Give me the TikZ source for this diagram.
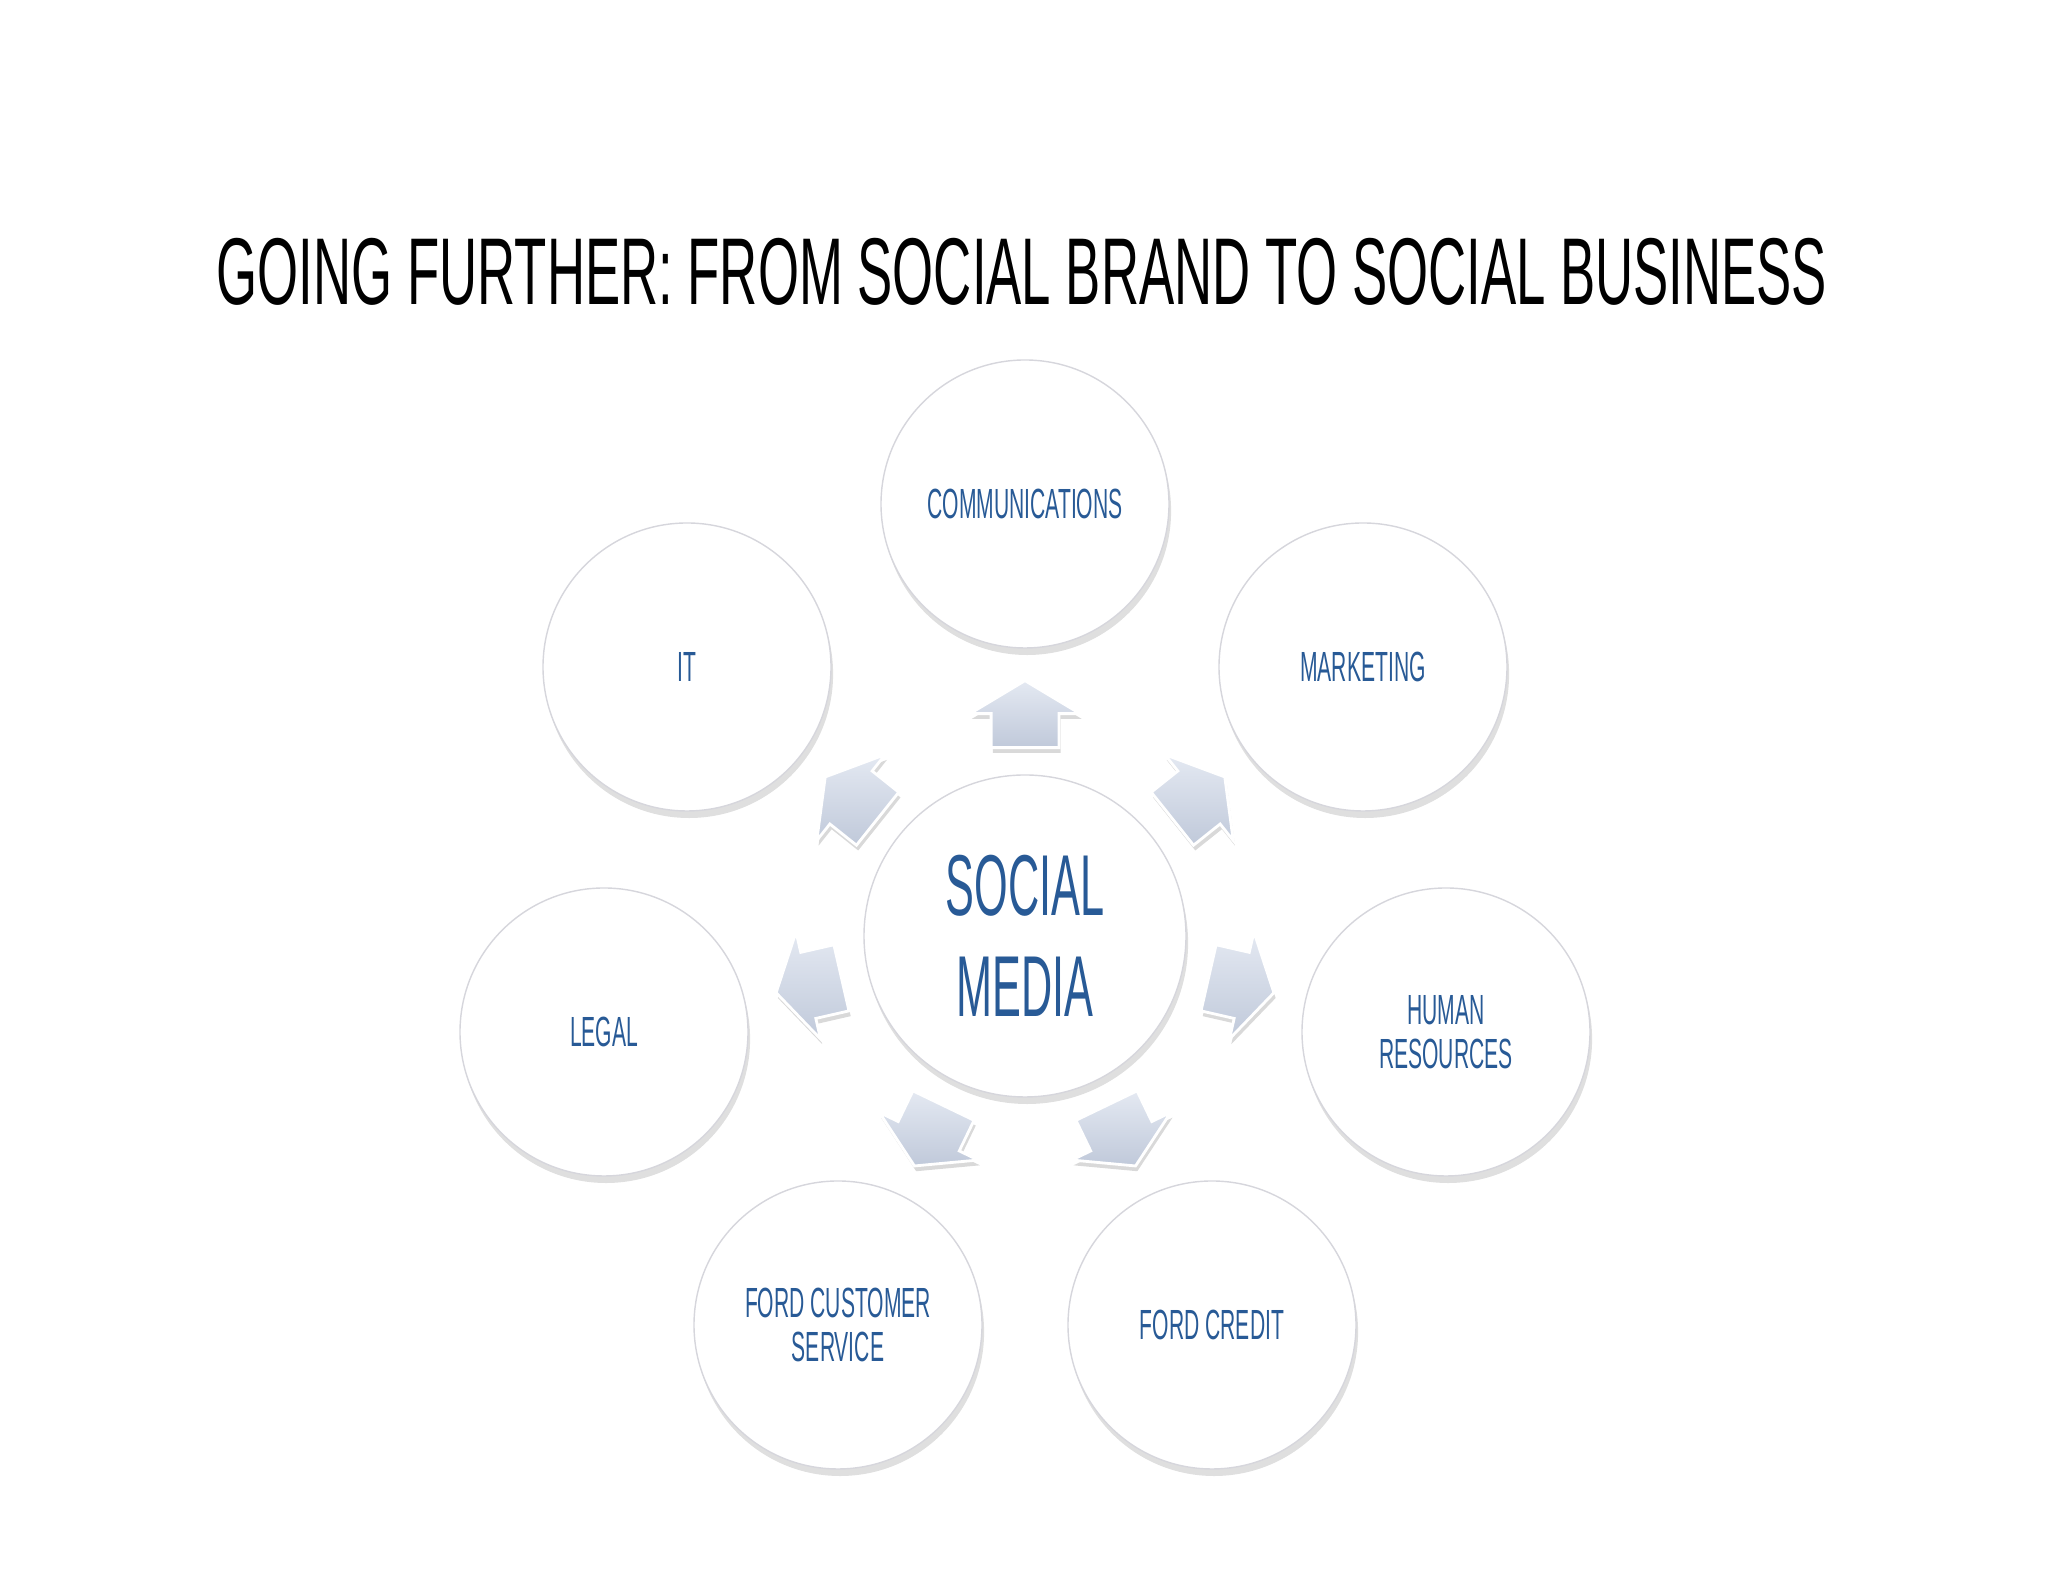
\documentclass[tikz,border=0pt]{standalone}
\usepackage{fontspec}
\usetikzlibrary{shapes.arrows, shadows, calc}
\newfontfamily\titlefont[FakeStretch=0.556]{Liberation Sans}
\newfontfamily\labelfont[FakeStretch=0.5]{Liberation Sans}
\definecolor{label-blue}{RGB}{40,90,150}
\definecolor{arrow-top}{RGB}{228,233,242}
\definecolor{arrow-bottom}{RGB}{192,201,218}
\definecolor{circle-line}{RGB}{214,214,220}

\begin{document}
\begin{tikzpicture}[
		unit-circle/.style={draw=circle-line, line width=0.4pt, circle, fill=white, minimum width=2.88cm, inner sep=0pt, align=center, text=label-blue, font=\labelfont\fontsize{12}{12.5}\selectfont, drop shadow={shadow xshift=0.6pt, shadow yshift=-2pt, opacity=0.25}},
		block-arrow/.style={single arrow, minimum height=0.67cm, single arrow head extend=0.21cm, single arrow tip angle=118, inner xsep=0pt, inner ysep=0.325cm, draw=white, line width=0.8pt, top color=arrow-top, bottom color=arrow-bottom, drop shadow={shadow xshift=0.5pt, shadow yshift=-1.5pt, opacity=0.3}}
	]
				\useasboundingbox (0, 0) rectangle (20.48, 15.82);

				\node[font=\titlefont\fontsize{27}{30}\selectfont] at (10.22, 13.10) (title) {GOING FURTHER: FROM SOCIAL BRAND TO SOCIAL BUSINESS};

				\node[unit-circle, minimum width=3.22cm, font=\labelfont\fontsize{24.6}{28.6}\selectfont] at (10.25, 6.46) (social-media) {SOCIAL\\MEDIA};

				\node[unit-circle] at (10.25, 10.78) (communications) {COMMUNICATIONS};
				\node[unit-circle] at (13.63, 9.15) (marketing) {MARKETING};
				\node[unit-circle] at (14.46, 5.50) (human-resources) {HUMAN\\RESOURCES};
				\node[unit-circle] at (12.12, 2.57) (ford-credit) {FORD CREDIT};
				\node[unit-circle] at (8.38, 2.57) (ford-customer-service) {FORD CUSTOMER\\SERVICE};
				\node[unit-circle] at (6.04, 5.50) (legal) {LEGAL};
				\node[unit-circle] at (6.87, 9.15) (it) {IT};

				% arrows from the centre outwards
				\node[block-arrow, rotate=90] at ($(social-media)!0.49!(communications)$) (to-communications) {};
				\node[block-arrow, rotate=38.57] at ($(social-media)!0.49!(marketing)$) (to-marketing) {};
				\node[block-arrow, rotate=-12.86] at ($(social-media)!0.49!(human-resources)$) (to-human-resources) {};
				\node[block-arrow, rotate=-64.29] at ($(social-media)!0.49!(ford-credit)$) (to-ford-credit) {};
				\node[block-arrow, rotate=-115.71] at ($(social-media)!0.49!(ford-customer-service)$) (to-ford-customer-service) {};
				\node[block-arrow, rotate=-167.14] at ($(social-media)!0.49!(legal)$) (to-legal) {};
				\node[block-arrow, rotate=141.43] at ($(social-media)!0.49!(it)$) (to-it) {};
			\end{tikzpicture}
\end{document}
